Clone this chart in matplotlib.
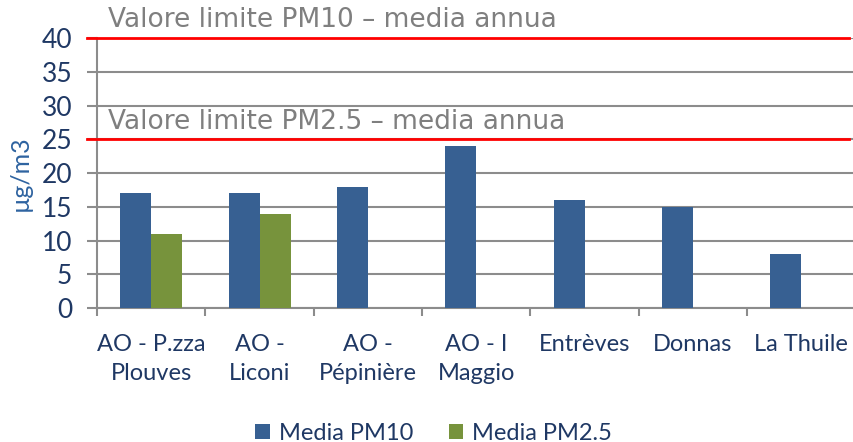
import matplotlib.pyplot as plt
import numpy as np

stazioni = ['AO - P.zza\nPlouves', 'AO -\nLiconi', 'AO -\nPépinière', 'AO - I\nMaggio',
            'Entrèves', 'Donnas', 'La Thuile']
pm10 = [17, 17, 18, 24, 16, 15, 8]
pm25 = [11, 14, np.nan, np.nan, np.nan, np.nan, np.nan]
limite_pm10 = 40
limite_pm25 = 25

blu = '#376092'
verde = '#77933C'
testo = '#1F3864'

plt.rcParams['font.family'] = ['Lato', 'DejaVu Sans']

fig = plt.figure(figsize=(8.54, 4.42), dpi=100)
ax = fig.add_axes([0.1136, 0.303, 0.888, 0.611])

x = np.arange(len(stazioni))
w = 0.286
ax.bar(x - w / 2, pm10, w, color=blu, label='Media PM10', zorder=3)
ax.bar(x + w / 2, pm25, w, color=verde, label='Media PM2.5', zorder=3)

ax.set_xlim(-0.5, len(stazioni) - 0.5)
ax.set_ylim(0, 40)
ax.set_yticks(range(0, 41, 5))
ax.yaxis.grid(True, color='#8c8c8c', linewidth=1.5, zorder=0)
ax.set_axisbelow(True)

for s in ['top', 'right']:
    ax.spines[s].set_visible(False)
ax.spines['left'].set_color('#8c8c8c')
ax.spines['left'].set_linewidth(1.5)
ax.spines['bottom'].set_color('#8c8c8c')
ax.spines['bottom'].set_linewidth(1.5)

ax.set_xticks(x)
ax.set_xticklabels(stazioni, fontsize=17, color=testo, linespacing=1.45)
ax.set_xticks(np.arange(-0.5, len(stazioni), 1), minor=True)
ax.tick_params(axis='x', which='major', length=0, pad=19)
ax.tick_params(axis='x', which='minor', length=6, width=1.5, color='#8c8c8c')
ax.tick_params(axis='y', length=7, width=1.5, color='#8c8c8c', labelsize=19,
               labelcolor=testo, pad=11)

ax.set_ylabel('µg/m3', fontsize=18, color='#2E63A0')
ax.yaxis.set_label_coords(-0.086, 0.5)

for lim, txt in [(limite_pm10, 'Valore limite PM10 – media annua'),
                 (limite_pm25, 'Valore limite PM2.5 – media annua')]:
    ax.axhline(lim, xmin=-0.013, xmax=0.992, color='#FF0000', linewidth=2,
               clip_on=False, zorder=4)
    ax.text(-0.4, lim + 0.7, txt, fontsize=19, color='#7f7f7f', va='bottom',
            family=['DejaVu Sans'])

fig.legend(*ax.get_legend_handles_labels(), loc='center', bbox_to_anchor=(0.508, 0.02),
           ncol=2, frameon=False, fontsize=17, labelcolor=testo, handlelength=0.6,
           handleheight=0.6, columnspacing=1.5, handletextpad=0.4)

fig.savefig('out.png', dpi=100)
